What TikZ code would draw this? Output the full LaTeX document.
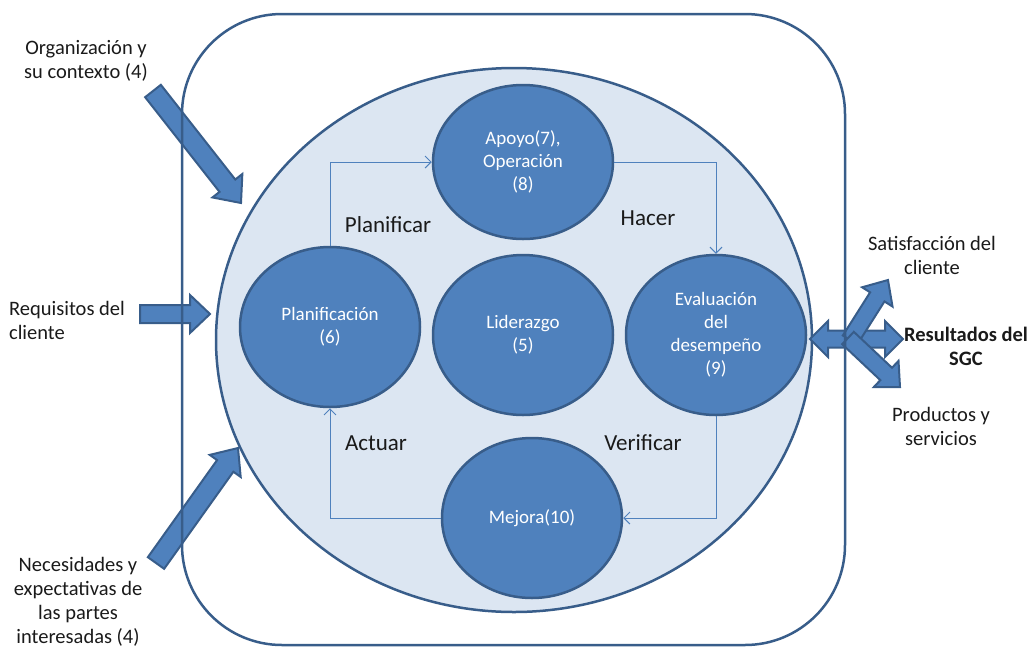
\documentclass[tikz,border=0pt]{standalone}
\usepackage{fontspec}
\setmainfont{Carlito}
\usetikzlibrary{calc,arrows.meta,shapes.geometric}
\definecolor{fillblue}{HTML}{4F81BD}
\definecolor{edgeblue}{HTML}{385D8A}
\definecolor{lightblue}{HTML}{DCE6F2}
\definecolor{txtgray}{HTML}{1A1A1A}
\newcommand\fatarrow[5]{% #1 tail, #2 tip, #3 shaft half, #4 head half, #5 head length
  \coordinate (facorner) at ($(#2)!#5!(#1)$);
  \draw[fatstyle] ($(#1)!#3!90:(#2)$) -- ($(facorner)!#3!-90:(#1)$) -- ($(facorner)!#4!-90:(#1)$) -- (#2)
    -- ($(facorner)!#4!90:(#1)$) -- ($(facorner)!#3!90:(#1)$) -- ($(#1)!#3!-90:(#2)$) -- cycle;}
\newcommand\dblfatarrow[5]{% #1 tip, #2 tip, #3 shaft half, #4 head half, #5 head length
  \coordinate (daone) at ($(#1)!#5!(#2)$);
  \coordinate (datwo) at ($(#2)!#5!(#1)$);
  \draw[fatstyle] (#1) -- ($(daone)!#4!90:(#2)$) -- ($(daone)!#3!90:(#2)$) -- ($(datwo)!#3!-90:(#1)$)
    -- ($(datwo)!#4!-90:(#1)$) -- (#2) -- ($(datwo)!#4!90:(#1)$) -- ($(datwo)!#3!90:(#1)$)
    -- ($(daone)!#3!-90:(#2)$) -- ($(daone)!#4!-90:(#2)$) -- cycle;}
\begin{document}
\begin{tikzpicture}[x=1pt,y=-1pt,
  fatstyle/.style={fill=fillblue,draw=edgeblue,line width=2pt,line join=miter},
  phase/.style={ellipse,fill=fillblue,draw=edgeblue,line width=2.5pt,minimum width=180pt,minimum height=160pt,inner sep=0pt,
    text=white,align=center,font=\fontsize{19}{23}\selectfont},
  conn/.style={draw=fillblue,line width=1pt,-{Straight Barb[length=6pt,width=12pt]}},
  outtext/.style={inner sep=0pt,text=txtgray,font=\fontsize{20.5}{24}\selectfont},
  cyclabel/.style={inner sep=0pt,text=txtgray,font=\fontsize{23}{27}\selectfont}]
\useasboundingbox (0,0) rectangle (1029,649);
% big ellipse
\node[ellipse,fill=lightblue,draw=edgeblue,line width=2.5pt,minimum width=596pt,minimum height=544pt,inner sep=0pt] (cycle) at (514,340) {};
% phase ellipses
\node[phase,minimum height=154pt] (apoyo) at (523,162) {Apoyo(7),\\Operación\\(8)};
\node[phase] (plan) at (330,327) {Planificación\\(6)};
\node[phase] (lider) at (523,335) {Liderazgo\\(5)};
\node[phase] (eval) at (716,335) {Evaluación\\del\\desempeño\\(9)};
\node[phase] (mejora) at (532,518) {Mejora(10)};
% cycle connectors
\draw[conn] (plan.north) |- (apoyo.west);
\draw[conn] (apoyo.east) -| (eval.north);
\draw[conn] (eval.south) |- (mejora.east);
\draw[conn] (mejora.west) -| (plan.south);
% cycle labels
\node[cyclabel] (lplan) at (388,225) {Planificar};
\node[cyclabel] (lhacer) at (648,218) {Hacer};
\node[cyclabel] (lactuar) at (376,443) {Actuar};
\node[cyclabel] (lverif) at (643,443) {Verificar};
% input arrows
\coordinate (orgtail) at (153,91);   \coordinate (orgtip) at (241,203);
\coordinate (reqtail) at (140,314);  \coordinate (reqtip) at (210,314);
\coordinate (nectail) at (156,563);  \coordinate (nectip) at (238,448);
\fatarrow{orgtail}{orgtip}{10pt}{19pt}{22pt}
\fatarrow{reqtail}{reqtip}{9pt}{19pt}{20pt}
\fatarrow{nectail}{nectip}{10pt}{19pt}{22pt}
% output arrows
\coordinate (outleft) at (810,339);  \coordinate (outright) at (903,339);
\coordinate (uptail) at (850,340);   \coordinate (uptip) at (888,280);
\coordinate (dntail) at (848,338);   \coordinate (dntip) at (900,387);
\dblfatarrow{outleft}{outright}{8.5pt}{18pt}{18pt}
\fatarrow{uptail}{uptip}{8.5pt}{18pt}{20pt}
\fatarrow{dntail}{dntip}{8.5pt}{18pt}{19pt}
% outer rounded rectangle
\draw[edgeblue,line width=2.5pt,rounded corners=100pt] (182,14) rectangle (845,645);
% outside texts
\node[outtext,align=center] (torg) at (86,61) {Organización y\\su contexto (4)};
\node[outtext,align=left] (treq) at (67,320) {Requisitos del\\cliente};
\node[outtext,align=center] (tnec) at (78,602) {Necesidades y\\expectativas de\\las partes\\interesadas (4)};
\node[outtext,align=center] (tsat) at (932,255) {Satisfacción del\\cliente};
\node[outtext,align=center,font=\fontsize{20.5}{24}\selectfont\bfseries] (tres) at (966,346) {Resultados del\\SGC};
\node[outtext,align=center] (tprod) at (941,426) {Productos y\\servicios};
\end{tikzpicture}
\end{document}
